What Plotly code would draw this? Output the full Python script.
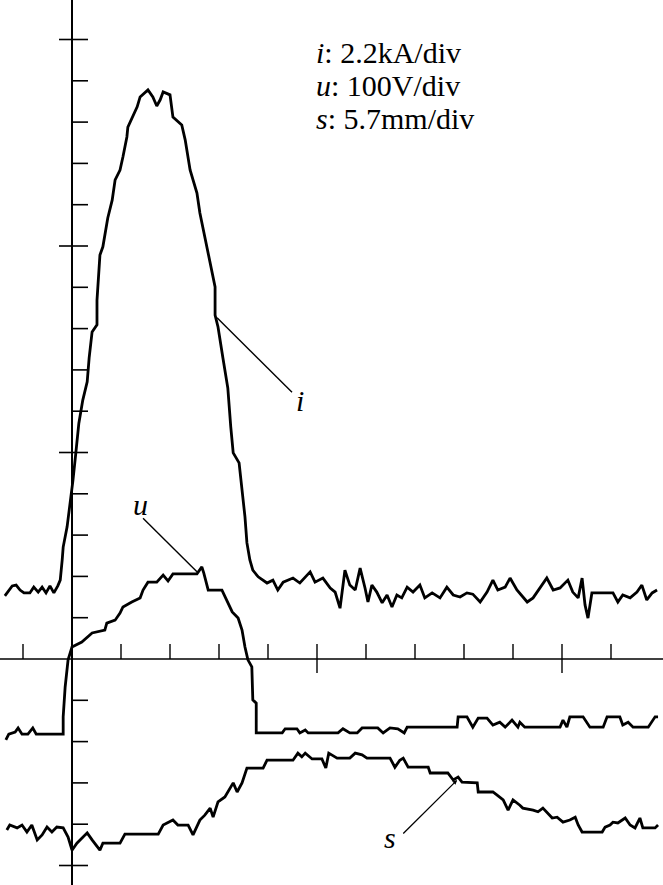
import plotly.graph_objects as go

# ---- data (time and amplitude in grid divisions) ----
i_t = [-1.37,-1.31,-1.22,-1.14,-1.06,-0.98,-0.86,-0.78,-0.69,-0.61,-0.53,-0.45,-0.37,-0.29,-0.24,-0.20,
       -0.18,-0.10,-0.04,0.02,0.08,0.14,0.22,0.31,0.35,0.41,0.51,0.51,0.57,0.63,0.73,0.82,0.88,0.98,1.04,
       1.12,1.14,1.22,1.33,1.39,1.55,1.65,1.73,1.80,1.86,2.00,2.06,2.24,2.31,2.41,2.55,2.61,2.71,2.82,
       2.92,2.92,2.98,3.08,3.18,3.24,3.29,3.41,3.47,3.53,3.57,3.63,3.69,3.80,3.98,4.10,4.20,4.31,4.51,
       4.65,4.86,4.96,5.12,5.27,5.37,5.47,5.57,5.67,5.78,5.88,5.98,6.04,6.12,6.22,6.33,6.43,6.53,6.63,
       6.73,6.84,6.96,7.10,7.20,7.35,7.51,7.65,7.78,7.92,8.06,8.18,8.33,8.47,8.59,8.69,8.84,8.94,9.08,
       9.29,9.41,9.55,9.69,9.82,9.96,10.12,10.22,10.33,10.41,10.47,10.53,10.61,11.04,11.14,11.24,11.39,
       11.53,11.63,11.73,11.84,11.94]
i_v = [1.53,1.62,1.77,1.79,1.67,1.60,1.60,1.74,1.62,1.74,1.60,1.77,1.60,1.77,1.91,2.40,
       2.71,3.20,3.73,4.33,5.01,5.71,6.27,6.71,7.29,7.92,8.09,8.69,9.78,9.98,10.68,11.11,11.60,11.84,12.16,
       12.64,12.88,13.10,13.37,13.61,13.78,13.61,13.39,13.54,13.73,13.66,13.12,12.93,12.57,11.84,11.28,10.80,10.22,9.59,
       9.01,8.33,8.04,7.29,6.56,5.62,4.99,4.75,4.09,3.44,2.81,2.40,2.15,1.99,1.84,1.91,1.67,1.86,1.96,
       1.84,2.11,1.86,1.96,1.72,1.62,1.23,2.15,1.79,1.67,2.20,1.72,1.38,1.79,1.62,1.36,1.55,1.26,1.55,
       1.48,1.74,1.62,1.79,1.48,1.60,1.48,1.74,1.55,1.50,1.60,1.57,1.38,1.62,1.91,1.67,1.74,1.96,1.67,
       1.38,1.48,1.72,1.96,1.67,1.72,1.91,1.62,1.48,1.96,1.31,0.99,1.60,1.60,1.38,1.55,1.48,
       1.62,1.79,1.43,1.60,1.67]

u_t = [-1.35,-1.29,-1.16,-1.10,-1.02,-0.90,-0.80,-0.73,-0.18,-0.18,-0.14,-0.08,0.00,0.20,0.41,0.67,0.71,
       0.88,0.98,1.04,1.22,1.39,1.45,1.55,1.73,1.86,1.96,2.06,2.55,2.65,2.69,2.78,3.06,3.16,3.27,3.39,
       3.47,3.53,3.59,3.67,3.69,3.76,3.76,4.29,4.35,4.59,4.65,4.76,4.82,5.43,5.53,5.67,5.82,5.92,6.24,
       6.35,6.49,6.65,6.78,6.84,7.86,7.88,8.06,8.18,8.29,8.47,8.59,8.73,8.84,8.98,9.10,9.14,9.24,9.96,
       10.02,10.10,10.16,10.43,10.57,10.84,10.92,11.18,11.24,11.35,11.45,11.76,11.90,11.96]
u_v = [-1.96,-1.82,-1.77,-1.67,-1.82,-1.82,-1.67,-1.82,-1.82,-1.40,-0.68,-0.02,0.29,0.41,0.63,0.70,0.87,
       0.94,1.11,1.26,1.38,1.48,1.67,1.86,1.86,2.03,1.89,2.06,2.06,2.23,2.08,1.67,1.67,1.43,1.14,0.99,
       0.70,0.29,-0.02,-0.19,-0.99,-1.07,-1.79,-1.79,-1.69,-1.69,-1.79,-1.72,-1.79,-1.79,-1.69,-1.79,-1.79,-1.67,-1.67,
       -1.79,-1.67,-1.69,-1.79,-1.65,-1.65,-1.40,-1.40,-1.65,-1.43,-1.43,-1.60,-1.53,-1.65,-1.48,-1.65,-1.53,-1.65,-1.65,
       -1.48,-1.65,-1.40,-1.40,-1.65,-1.65,-1.40,-1.40,-1.60,-1.53,-1.65,-1.65,-1.40,-1.40]

s_t = [-1.33,-1.27,-1.12,-1.02,-0.92,-0.82,-0.71,-0.61,-0.51,-0.41,-0.31,-0.18,-0.08,0.00,0.10,0.31,0.41,
       0.57,0.63,0.98,1.08,1.76,1.86,2.06,2.16,2.37,2.47,2.61,2.71,2.82,2.88,2.98,3.12,3.22,3.29,3.37,
       3.47,3.57,3.90,3.98,4.51,4.61,4.69,4.76,4.90,5.10,5.18,5.24,5.41,5.67,5.78,5.92,6.02,6.49,6.59,
       6.69,6.76,6.86,7.27,7.31,7.67,7.78,7.88,7.96,8.27,8.29,8.59,8.67,8.80,8.90,9.00,9.14,9.20,9.41,
       9.51,9.61,9.71,9.80,9.90,10.02,10.16,10.27,10.33,10.41,10.82,10.88,10.98,11.04,11.14,11.29,11.39,
       11.49,11.59,11.65,11.90,11.96]
s_v = [-4.14,-4.02,-4.09,-4.02,-4.19,-4.02,-4.38,-4.26,-4.07,-4.19,-4.07,-4.09,-4.31,-4.63,-4.46,-4.21,-4.38,
       -4.63,-4.46,-4.46,-4.24,-4.24,-4.02,-3.90,-4.02,-4.02,-4.26,-3.90,-3.78,-3.61,-3.83,-3.46,-3.34,-3.12,-3.00,-3.22,
       -3.00,-2.64,-2.64,-2.45,-2.45,-2.28,-2.37,-2.28,-2.42,-2.42,-2.64,-2.28,-2.40,-2.40,-2.28,-2.32,-2.40,-2.40,-2.62,
       -2.45,-2.40,-2.62,-2.62,-2.76,-2.76,-2.93,-2.86,-2.98,-3.00,-3.22,-3.22,-3.29,-3.41,-3.66,-3.41,-3.54,-3.61,-3.66,
       -3.70,-3.61,-3.73,-3.85,-3.83,-3.95,-3.90,-3.83,-4.02,-4.19,-4.19,-4.07,-4.02,-3.95,-3.97,-3.85,-4.02,
       -4.09,-3.85,-4.09,-4.09,-4.02]

y_ticks = list(range(-5, 17))          # vertical-axis tick positions (divisions)
y_major = [-5, 5, 10, 15]
x_ticks = [-1] + list(range(1, 12))    # horizontal-axis tick positions (divisions)
x_major = [5, 10]

scale_lines = ["<i>i</i>: 2.2kA/div", "<i>u</i>: 100V/div", "<i>s</i>: 5.7mm/div"]

# ---- figure ----
X0, X1 = -72/49, 591/49
Y0, Y1 = -226/41.3, 659/41.3

fig = go.Figure()
for t, v in [(i_t, i_v), (u_t, u_v), (s_t, s_v)]:
    fig.add_trace(go.Scatter(x=t, y=v, mode="lines",
                             line=dict(color="black", width=2.8), hoverinfo="skip",
                             showlegend=False))

shapes = []
# axes
shapes.append(dict(type="line", xref="x", yref="y", x0=0, x1=0, y0=Y0, y1=Y1,
                   line=dict(color="black", width=2)))
shapes.append(dict(type="line", xref="x", yref="y", x0=X0, x1=X1, y0=0, y1=0,
                   line=dict(color="black", width=1.5)))
# y ticks
for k in y_ticks:
    if k == 0:
        continue
    left = -13/49 if k in y_major else 0
    shapes.append(dict(type="line", xref="x", yref="y", x0=left, x1=16/49, y0=k, y1=k,
                       line=dict(color="black", width=1.6)))
# x ticks
for k in x_ticks:
    low = -14/41.3 if k in x_major else 0
    shapes.append(dict(type="line", xref="x", yref="y", x0=k, x1=k, y0=low, y1=15/41.3,
                       line=dict(color="black", width=1.4)))
# leader lines for labels i and u
shapes.append(dict(type="line", xref="x", yref="y", x0=2.96, y0=8.26, x1=4.49, y1=6.46,
                   line=dict(color="black", width=1.4)))
shapes.append(dict(type="line", xref="x", yref="y", x0=1.45, y0=3.41, x1=2.55, y1=2.11,
                   line=dict(color="black", width=1.4)))

annotations = []
font_serif = "Liberation Serif, Times New Roman, serif"
for txt, yy in zip(scale_lines, [14.68, 13.88, 13.08]):
    annotations.append(dict(x=4.94, y=yy, xref="x", yref="y", text=txt, showarrow=False,
                            xanchor="left", yanchor="middle",
                            font=dict(family=font_serif, size=30, color="black")))
for txt, xx, yy in [("i", 4.65, 6.27), ("u", 1.39, 3.73), ("s", 6.49, -4.33)]:
    annotations.append(dict(x=xx, y=yy, xref="x", yref="y", text="<i>%s</i>" % txt,
                            showarrow=False, xanchor="center", yanchor="middle",
                            font=dict(family=font_serif, size=30, color="black")))
# arrow for s label
annotations.append(dict(x=7.86, y=-2.93, ax=6.73, ay=-4.26, xref="x", yref="y",
                        axref="x", ayref="y", text="", showarrow=True,
                        arrowhead=2, arrowsize=0.7, arrowwidth=1.3, arrowcolor="black"))

fig.update_layout(
    width=663, height=885,
    margin=dict(l=0, r=0, t=0, b=0),
    paper_bgcolor="white", plot_bgcolor="white",
    xaxis=dict(range=[X0, X1], visible=False, fixedrange=True),
    yaxis=dict(range=[Y0, Y1], visible=False, fixedrange=True),
    shapes=shapes, annotations=annotations,
)

fig.write_html("out.html", config={"displayModeBar": False},
               post_script="document.body.style.margin='0';document.body.style.overflow='hidden';")
